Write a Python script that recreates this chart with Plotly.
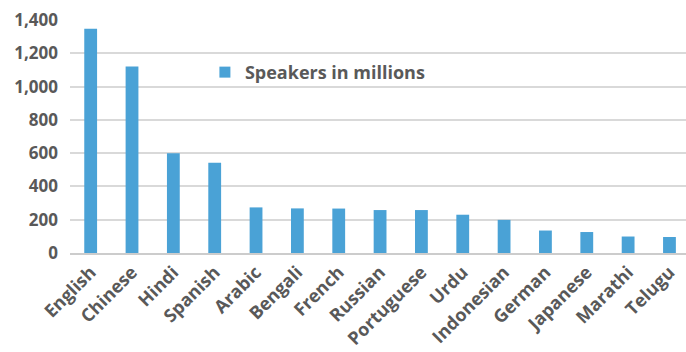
import plotly.graph_objects as go

languages = ["English", "Chinese", "Hindi", "Spanish", "Arabic", "Bengali", "French",
             "Russian", "Portuguese", "Urdu", "Indonesian", "German", "Japanese",
             "Marathi", "Telugu"]
speakers = [1348, 1120, 600, 543, 274, 268, 267, 258, 258, 230, 199, 135, 126, 99, 96]
y_ticks = [0, 200, 400, 600, 800, 1000, 1200, 1400]
y_labels = ["0", "200", "400", "600", "800", "1,000", "1,200", "1,400"]
series_name = "Speakers in millions"

bar_color = "#4aa2d6"
text_color = "#595959"
grid_color = "#d9d9d9"

fig = go.Figure()
fig.add_trace(
    go.Bar(
        x=languages,
        y=speakers,
        name=series_name,
        marker=dict(color=bar_color, line=dict(width=0)),
        width=0.31,
        showlegend=False,
    )
)
# square swatch for the legend entry
fig.add_trace(
    go.Scatter(
        x=[None], y=[None], mode="markers", name=series_name,
        marker=dict(symbol="square", size=11, color=bar_color),
        showlegend=True,
    )
)

fig.update_layout(
    width=686,
    height=352,
    margin=dict(l=70, r=0, t=20, b=99),
    paper_bgcolor="white",
    plot_bgcolor="white",
    font=dict(family="Open Sans", size=18, color=text_color, weight="bold"),
    legend=dict(
        x=0.219, y=0.775, xanchor="left", yanchor="middle",
        bgcolor="rgba(0,0,0,0)",
        font=dict(size=18, color=text_color, weight="bold"),
        itemwidth=30,
    ),
    xaxis=dict(
        range=[-0.5, 14.4],
        tickangle=-45,
        showgrid=False,
        showline=True,
        linecolor="#cccccc",
        linewidth=1.5,
        ticks="",
        tickfont=dict(size=18, color=text_color, weight="bold"),
    ),
    yaxis=dict(
        range=[0, 1400],
        tickvals=y_ticks,
        ticktext=y_labels,
        showgrid=True,
        gridcolor=grid_color,
        gridwidth=1.5,
        zeroline=False,
        ticks="",
        ticklabelstandoff=11,
        tickfont=dict(size=17, color=text_color, weight="bold"),
    ),
)

fig.write_html("out.html")
